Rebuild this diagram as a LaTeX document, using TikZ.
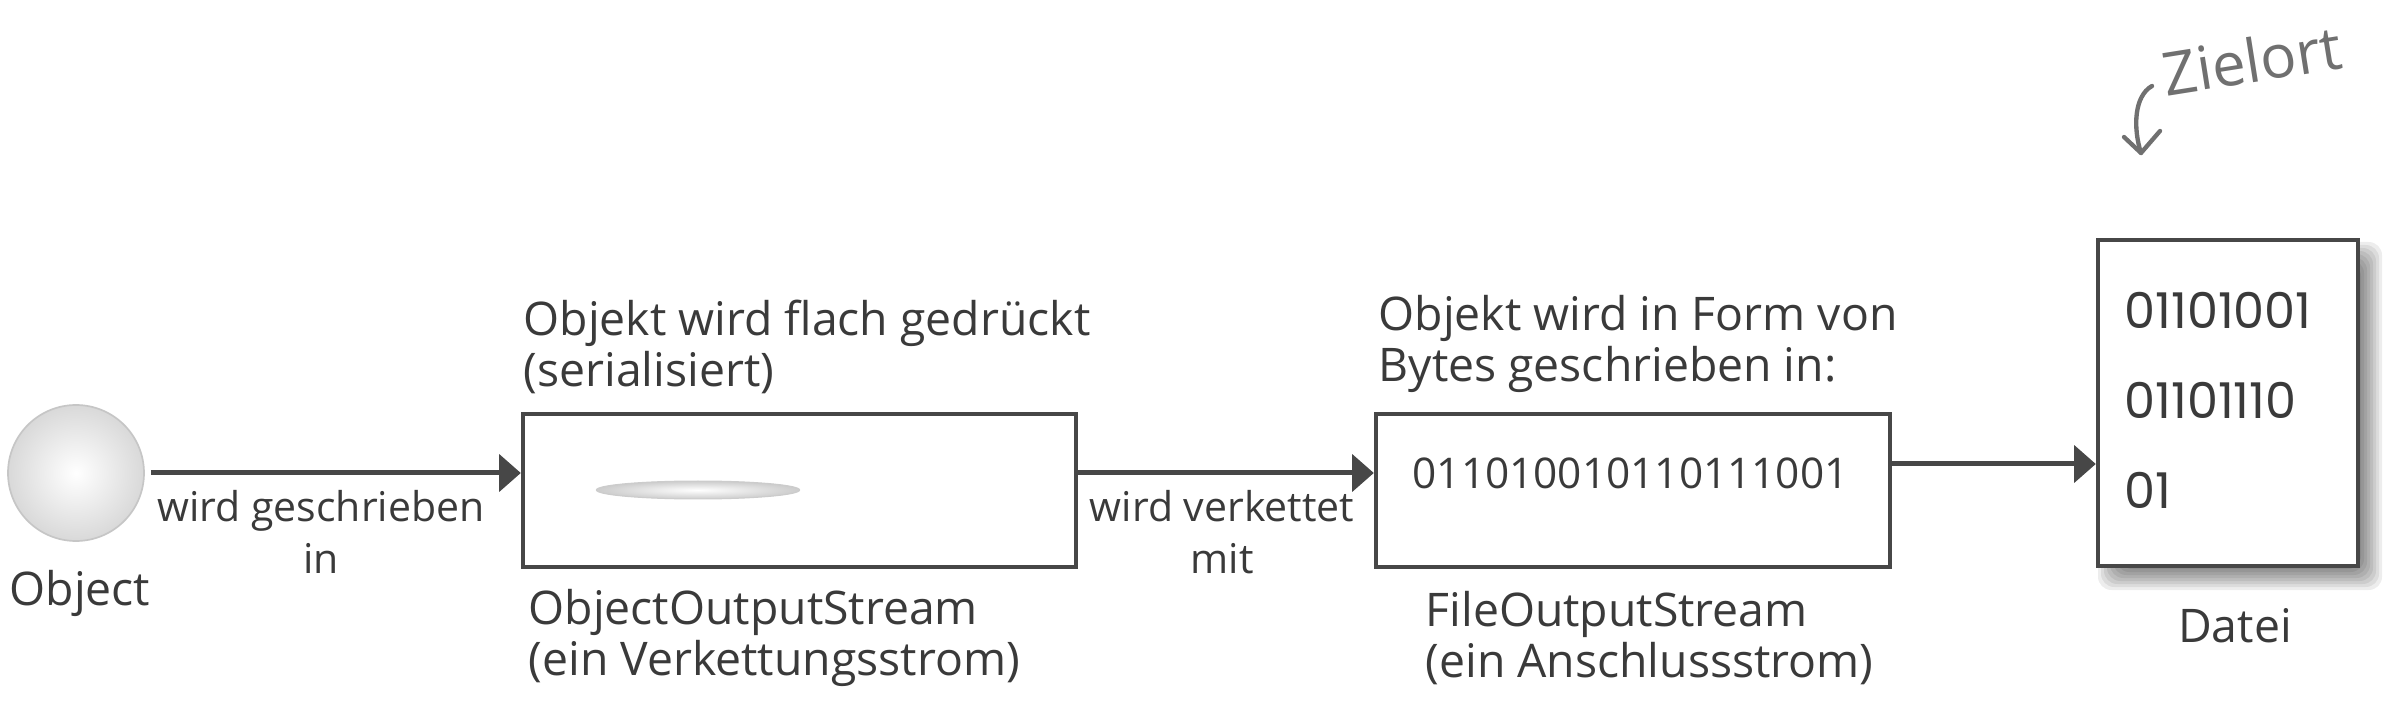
\documentclass[tikz,border=0pt]{standalone}
\usepackage{fontspec}
\setmainfont{Open Sans}
\newfontfamily\roundfont{Poppins}
\usetikzlibrary{arrows.meta,calc,shapes.geometric}
\definecolor{ink}{HTML}{3A3A3A}
\definecolor{linec}{HTML}{474747}
\definecolor{hand}{HTML}{707070}
\begin{document}
\begin{tikzpicture}[x=0.3pt,y=-0.3pt,
  bigtext/.style={text=ink,font=\fontsize{13.9pt}{15.2pt}\selectfont,align=left,inner sep=0pt},
  labtext/.style={text=ink,font=\fontsize{12.3pt}{15.6pt}\selectfont,align=center,inner sep=0pt},
  streambox/.style={draw=linec,line width=1.3pt,fill=white,rectangle,inner sep=0pt},
  flow/.style={draw=linec,line width=1.5pt,-{Triangle[length=6.5pt,width=11pt]}},
]
\fill[white] (0,0) rectangle (2384,724);
\useasboundingbox (0,0) rectangle (2384,724);

% object ball
\node[circle, minimum size=40.8pt, inner sep=0pt, draw=gray!45, line width=0.5pt,
      inner color=white, outer color=gray!30] (obj) at (76,473) {};
\node[bigtext] (objlabel) at (80,593) {Object};

% ObjectOutputStream box
\node[streambox, minimum width=165.9pt, minimum height=45.9pt] (oos) at (799.5,490.5) {};
\node[ellipse, minimum width=61pt, minimum height=5.4pt, inner sep=0pt, draw=gray!40,
      line width=0.3pt, inner color=white, outer color=gray!40] (flat) at (698,490) {};
\node[bigtext, anchor=west] (t1) at (523,347) {Objekt wird flach gedrückt\\(serialisiert)};
\node[bigtext, anchor=west] (b1) at (528,638) {ObjectOutputStream\\(ein Verkettungsstrom)};

% FileOutputStream box
\node[streambox, minimum width=154.2pt, minimum height=45.9pt] (fos) at (1633,490.5) {};
\node[text=ink, font=\fontsize{12.7pt}{15pt}\selectfont, anchor=west, inner sep=0pt] (bits) at (1412,473) {011010010110111001};
\node[bigtext, anchor=west] (t2) at (1378,344) {Objekt wird in Form von\\Bytes geschrieben in:};
\node[bigtext, anchor=west] (b2) at (1425,638) {FileOutputStream\\(ein Anschlussstrom)};

% file with shadow
\foreach \e in {12,9,6,3,0,-3,-6,-9}{
  \fill[black, opacity=0.07, rounded corners=4pt] (2110-\e,254-\e) rectangle (2370+\e,578+\e);
}
\node[streambox, minimum width=78pt, minimum height=97.8pt] (file) at (2228,403) {};
\node[text=ink, font=\roundfont\fontsize{14.8pt}{27pt}\selectfont, align=left, anchor=west, inner sep=0pt] (filebits) at (2124,400) {01101001\\01101110\\01};
\node[bigtext] (datei) at (2235,626) {Datei};

% handwritten note
\node[text=hand, font=\fontsize{18pt}{18pt}\selectfont, rotate=9, inner sep=0pt] (ziel) at (2252,60) {Zielort};
\coordinate (zs) at (2152,86);
\coordinate (zt) at (2141,153);
\coordinate (zw1) at (2124,137);
\coordinate (zw2) at (2160,131);
\draw[hand, line width=1.3pt, line cap=round] (zs) .. controls (2134,96) and (2133,128) .. (zt);
\draw[hand, line width=1.3pt, line cap=round, line join=round] (zw1) -- (zt) -- (zw2);

% connectors
\coordinate (y2) at (0,473);
\coordinate (y3) at (0,464);
\draw[flow] ($(obj.east)+(6,0)$) -- (oos.west |- obj.east);
\draw[flow] (oos.east |- y2) -- (fos.west |- y2);
\draw[flow] (fos.east |- y3) -- (file.west |- y3);
\node[labtext] (l1) at (321,532) {wird geschrieben\\in};
\node[labtext] (l2) at (1222,532) {wird verkettet\\mit};
\end{tikzpicture}
\end{document}
